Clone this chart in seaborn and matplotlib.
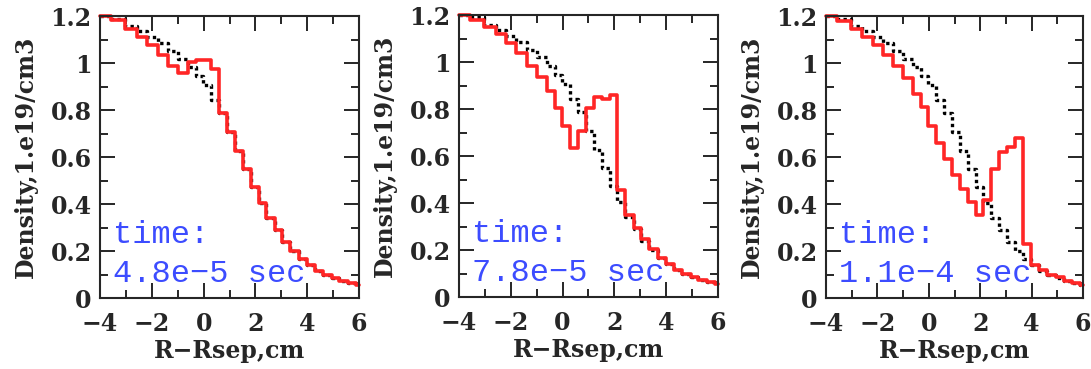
import matplotlib
matplotlib.use("Agg")
import matplotlib.pyplot as plt
import matplotlib.ticker as mticker
import pandas as pd
import seaborn as sns

# Cell edges of the radial grid (cm), shared by all profiles
edges = [-4.0, -3.59, -3.03, -2.59, -2.18, -1.78, -1.39, -1.0, -0.62, -0.31,
         -0.02, 0.29, 0.58, 0.90, 1.20, 1.53, 1.83, 2.12, 2.42, 2.74,
         3.03, 3.35, 3.67, 3.99, 4.30, 4.61, 4.94, 5.24, 5.57, 5.87, 6.0]

# Initial density profile (black dotted), 1.e19/cm3
initial = [1.2, 1.19, 1.158, 1.138, 1.112, 1.085, 1.05, 1.02, 0.985, 0.945,
           0.906, 0.843, 0.787, 0.707, 0.628, 0.548, 0.472, 0.406, 0.342, 0.288,
           0.238, 0.200, 0.165, 0.140, 0.116, 0.100, 0.086, 0.073, 0.064, 0.056]

# Perturbed density profiles (red) at three times
dens_t1 = [1.2, 1.183, 1.146, 1.110, 1.076, 1.034, 0.987, 0.960, 1.005, 1.012,
           1.012, 0.975, 0.787, 0.707, 0.628, 0.548, 0.472, 0.406, 0.342, 0.288,
           0.238, 0.200, 0.165, 0.140, 0.116, 0.100, 0.086, 0.073, 0.064, 0.056]
dens_t2 = [1.2, 1.180, 1.148, 1.118, 1.082, 1.038, 0.985, 0.935, 0.877, 0.803,
           0.729, 0.634, 0.705, 0.803, 0.850, 0.843, 0.860, 0.455, 0.348, 0.293,
           0.245, 0.204, 0.166, 0.140, 0.116, 0.100, 0.086, 0.073, 0.064, 0.055]
dens_t3 = [1.2, 1.180, 1.145, 1.112, 1.077, 1.034, 0.988, 0.935, 0.871, 0.812,
           0.733, 0.662, 0.591, 0.524, 0.463, 0.411, 0.354, 0.418, 0.550, 0.621,
           0.645, 0.680, 0.230, 0.142, 0.118, 0.099, 0.088, 0.074, 0.064, 0.054]

time_labels = ["time:\n4.8e\u22125 sec", "time:\n7.8e\u22125 sec", "time:\n1.1e\u22124 sec"]

x_ticks = [-4, -2, 0, 2, 4, 6]
x_tick_labels = ["\u22124", "\u22122", "0", "2", "4", "6"]
y_ticks = [0, 0.2, 0.4, 0.6, 0.8, 1.0, 1.2]
y_tick_labels = ["0", "0.2", "0.4", "0.6", "0.8", "1", "1.2"]

sns.set_style("ticks")
plt.rcParams["font.family"] = ["DejaVu Serif"]

fig = plt.figure(figsize=(10.91, 3.69), dpi=100)
axes_rects = [
    [0.0917, 0.192, 0.2374, 0.764],
    [0.4207, 0.195, 0.2374, 0.764],
    [0.7571, 0.192, 0.2356, 0.764],
]


def step_frame(values):
    # steps-post needs the last value repeated at the final edge
    return pd.DataFrame({"x": edges, "y": values + [values[-1]]})


for rect, dens, label in zip(axes_rects, [dens_t1, dens_t2, dens_t3], time_labels):
    ax = fig.add_axes(rect)
    sns.lineplot(data=step_frame(initial), x="x", y="y", ax=ax, color="black",
                 linewidth=2.4, linestyle=(0, (1, 1)), drawstyle="steps-post",
                 estimator=None, sort=False)
    sns.lineplot(data=step_frame(dens), x="x", y="y", ax=ax, color="#ff2626",
                 linewidth=2.6, drawstyle="steps-post", estimator=None,
                 sort=False, clip_on=False)

    ax.set_xlim(-4, 6)
    ax.set_ylim(0, 1.2)
    ax.set_xticks(x_ticks)
    ax.set_xticklabels(x_tick_labels, fontweight="bold")
    ax.set_yticks(y_ticks)
    ax.set_yticklabels(y_tick_labels, fontweight="bold")
    ax.xaxis.set_minor_locator(mticker.MultipleLocator(1))
    ax.yaxis.set_minor_locator(mticker.MultipleLocator(0.1))
    ax.tick_params(which="both", direction="in", top=True, right=True,
                   width=1.4, labelsize=17)
    ax.tick_params(which="major", length=11)
    ax.tick_params(which="minor", length=6)
    ax.tick_params(axis="x", which="major", pad=10)
    ax.tick_params(axis="y", which="major", pad=6)
    for spine in ax.spines.values():
        spine.set_linewidth(1.5)

    ax.set_xlabel("R\u2212Rsep,cm", fontsize=17, fontweight="bold", labelpad=2)
    ax.set_ylabel("Density,1.e19/cm3", fontsize=17, fontweight="bold", labelpad=9)

    ax.text(0.05, 0.057, label, transform=ax.transAxes, color="#3c4cff",
            family=["Liberation Mono"], fontsize=23, linespacing=1.4,
            va="baseline", ha="left")

fig.savefig("out.png", dpi=100)
